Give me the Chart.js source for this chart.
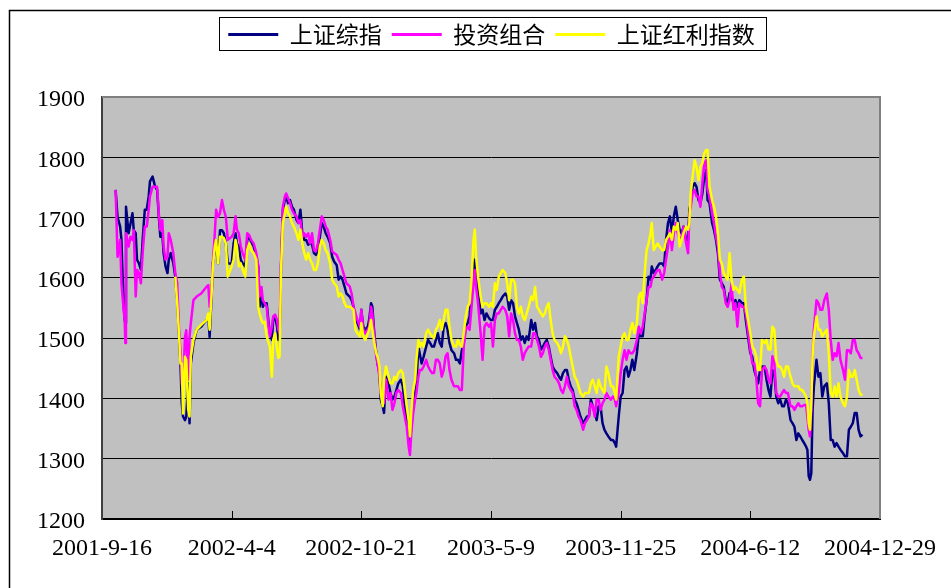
<!DOCTYPE html>
<html><head><meta charset="utf-8">
<style>html,body{margin:0;padding:0;background:#fff;}canvas{display:block;}</style>
<script src="https://cdn.jsdelivr.net/npm/chart.js@4.4.1/dist/chart.umd.min.js"></script>
</head><body>
<canvas id="c" width="951" height="588"></canvas>
<script>
const seriesNames = ['上证综指', '投资组合', '上证红利指数'];
const tickLabels = ['2001-9-16', '2002-4-4', '2002-10-21', '2003-5-9', '2003-11-25', '2004-6-12', '2004-12-29'];

// days counted from 2001-9-16
const days = [
21,24,28,30,33,35,36,37,41,44,47,49,52,54,57,60,63,66,69,72,74,78,82,85,88,90,93,95,98,101,103,106,110,
113,116,119,121,123,125,128,130,133,135,137,141,146,153,161,164,166,169,171,174,176,179,182,185,188,191,194,
200,203,206,208,211,214,217,221,224,227,230,234,238,241,243,246,248,251,254,257,259,262,264,267,270,272,274,276,279,282,284,287,290,293,296,300,303,306,309,312,315,318,321,324,327,330,333,336,339,342,345,348,352,355,358,362,365,368,371,374,377,382,385,388,391,394,398,
400,403,406,410,412,415,417,420,423,425,428,430,433,435,438,442,445,448,451,454,457,461,464,467,470,473,475,477,480,483,485,488,490,493,496,500,503,506,509,512,515,518,521,524,527,530,533,536,539,543,546,549,552,555,558,561,564,567,570,573,575,577,580,584,587,590,593,
597,600,603,606,609,612,615,618,622,625,628,631,634,637,640,643,646,649,652,655,658,662,665,668,671,674,677,680,683,686,689,692,695,698,702,705,708,711,714,717,720,723,726,729,732,735,738,742,745,748,751,754,757,760,763,766,769,772,775,778,781,785,788,791,793,
797,800,803,806,809,812,815,818,821,825,828,831,834,837,840,843,846,848,851,854,857,860,864,867,870,873,876,879,882,885,888,891,894,897,901,904,906,908,911,914,917,920,923,926,929,932,934,937,941,944,947,950,953,956,959,962,965,968,971,974,977,980,983,987,990,993,
1000,1003,1006,1009,1012,1015,1018,1022,1025,1028,1031,1034,1037,1040,1043,1046,1049,1052,1055,1058,1062,1065,1068,1071,1074,1077,1080,1083,1086,1088,1090,1092,1094,1096,1098,1102,1105,1108,1111,1114,1118,1121,1124,1127,1130,1133,1136,1139,1143,1146,1149,1152,1155,1158,1161,1164,1167,1170,1173
];

const shIndex = [
1746,1701,1685,1663,1563,1530,1525,1718,1674,1690,1707,1679,1674,1630,1624,1613,1668,1713,1713,1735,1760,1768,1751,1746,1696,1668,1674,1641,1619,1608,1630,1641,1624,
1602,1563,1502,1458,1392,1370,1364,1370,1425,1359,1458,1491,1514,1519,1530,1536,1502,1569,1624,1646,1663,1624,1679,1679,1674,1657,1624,
1624,1657,1674,1657,1652,1630,1624,1619,1663,1668,1660,1652,1635,1619,1552,1574,1552,1558,1558,1525,1508,1497,1530,1536,1519,1497,1503,1613,1713,1729,1735,1724,1729,1718,1713,1696,1691,1713,1674,1663,1663,1655,1657,1655,1641,1638,1646,1668,1691,1685,1674,1668,1657,1635,1627,1621,1597,1602,1597,1586,1574,1569,1563,1552,1530,1525,1514,
1547,1519,1514,1519,1530,1558,1552,1508,1475,1458,1442,1398,1387,1376,1436,1425,1409,1398,1403,1414,1425,1431,1420,1387,1364,1331,1326,1353,1387,1409,1425,1486,1475,1458,1469,1486,1497,1492,1486,1486,1497,1508,1492,1486,1519,1525,1514,1492,1480,1475,1464,1464,1458,1480,1492,1519,1525,1536,1585,1619,1630,1602,1580,1541,1547,1530,1541,
1533,1530,1530,1547,1552,1558,1563,1569,1574,1569,1547,1563,1558,1536,1525,1514,1497,1503,1492,1503,1497,1530,1514,1525,1503,1497,1481,1486,1492,1497,1486,1469,1453,1447,1442,1436,1431,1442,1447,1447,1431,1420,1414,1398,1392,1381,1370,1359,1364,1370,1370,1398,1387,1376,1364,1387,1387,1359,1348,1342,1337,1331,1331,1326,1320,
1370,1403,1409,1447,1453,1436,1447,1464,1447,1475,1508,1503,1503,1536,1563,1602,1597,1619,1608,1613,1619,1624,1624,1619,1663,1691,1702,1674,1702,1718,1696,1679,1674,1685,1663,1663,1713,1724,1751,1757,1751,1729,1724,1740,1768,1779,1729,1724,1691,1679,1663,1641,1597,1591,1585,1563,1558,1575,1569,1558,1563,1552,1563,1558,1558,1530,
1475,1469,1447,1436,1425,1447,1453,1453,1431,1414,1403,1447,1442,1403,1392,1398,1387,1387,1398,1392,1364,1359,1353,1331,1342,1337,1331,1326,1320,1315,1271,1265,1276,1381,1420,1464,1436,1442,1403,1420,1425,1392,1331,1331,1320,1326,1320,1315,1309,1304,1304,1348,1353,1359,1376,1376,1348,1337,1340
];

const portfolio = [
1746,1635,1663,1591,1552,1530,1492,1674,1652,1668,1663,1679,1569,1613,1608,1591,1646,1685,1685,1713,1735,1751,1751,1751,1701,1679,1696,1652,1630,1635,1674,1663,1641,
1608,1591,1508,1480,1425,1414,1502,1513,1431,1502,1525,1563,1569,1574,1585,1588,1552,1569,1624,1674,1713,1701,1707,1729,1713,1701,1663,
1668,1674,1702,1680,1674,1652,1641,1630,1674,1671,1663,1657,1641,1619,1569,1585,1563,1558,1552,1519,1503,1519,1536,1539,1530,1514,1508,1619,1718,1735,1740,1732,1724,1713,1707,1702,1691,1696,1668,1674,1668,1674,1657,1674,1646,1644,1657,1680,1702,1696,1685,1680,1663,1644,1641,1638,1630,1624,1613,1602,1591,1586,1574,1552,1541,1530,1519,
1547,1514,1508,1514,1519,1552,1541,1503,1470,1458,1436,1409,1392,1392,1431,1398,1409,1381,1392,1409,1414,1409,1387,1370,1354,1320,1306,1342,1376,1398,1409,1436,1447,1447,1453,1464,1453,1447,1442,1442,1464,1464,1458,1436,1447,1470,1475,1447,1431,1420,1420,1420,1414,1414,1486,1514,1519,1514,1552,1591,1613,1585,1558,1508,1464,1519,1525,
1519,1525,1486,1530,1541,1541,1547,1552,1547,1536,1503,1541,1530,1508,1497,1497,1486,1464,1475,1481,1486,1486,1508,1508,1497,1486,1469,1475,1486,1492,1481,1464,1447,1436,1431,1425,1414,1409,1420,1436,1420,1414,1409,1387,1381,1370,1364,1348,1359,1364,1370,1392,1387,1370,1398,1398,1381,1392,1398,1409,1403,1398,1403,1398,1387,
1409,1442,1464,1480,1464,1480,1475,1475,1480,1497,1519,1508,1519,1541,1563,1585,1585,1597,1602,1608,1613,1613,1597,1608,1630,1652,1679,1646,1674,1691,1674,1663,1668,1685,1657,1641,1707,1718,1740,1746,1735,1735,1718,1757,1790,1795,1746,1735,1707,1691,1668,1652,1608,1585,1580,1558,1552,1563,1591,1547,1558,1519,1558,1552,1552,1541,
1480,1458,1458,1436,1392,1387,1447,1453,1447,1431,1425,1470,1458,1409,1403,1403,1409,1414,1409,1409,1387,1387,1381,1387,1392,1387,1387,1389,1389,1370,1348,1337,1381,1470,1514,1563,1558,1547,1547,1563,1574,1547,1497,1464,1475,1470,1492,1464,1447,1431,1480,1480,1475,1497,1497,1480,1475,1467,1467
];

const dividend = [
null,null,null,null,null,null,null,null,null,null,null,null,null,null,null,null,null,null,null,null,null,null,null,null,null,null,null,null,null,null,null,null,null,
1602,1558,1502,1458,1458,1375,1469,1464,1381,1370,1469,1497,1514,1522,1530,1541,1514,1574,1619,1652,1663,1624,1668,1668,1666,1657,1602,
1619,1630,1663,1652,1619,1624,1613,1602,1646,1657,1646,1641,1630,1552,1541,1530,1525,1527,1503,1492,1486,1436,1497,1508,1481,1467,1470,1608,1691,1707,1718,1707,1702,1691,1685,1674,1663,1680,1657,1641,1630,1641,1630,1624,1613,1613,1624,1652,1663,1657,1646,1641,1624,1597,1591,1586,1569,1574,1569,1558,1552,1552,1550,1547,1514,1508,1503,
1525,1503,1497,1508,1514,1530,1514,1492,1475,1469,1453,1409,1387,1431,1453,1436,1425,1425,1436,1431,1442,1447,1442,1414,1387,1364,1337,1376,1414,1431,1464,1497,1486,1492,1486,1508,1514,1508,1503,1500,1514,1519,1530,1514,1530,1547,1547,1519,1497,1486,1486,1497,1489,1486,1508,1536,1552,1558,1597,1663,1680,1635,1602,1569,1552,1558,1558,
1552,1558,1552,1591,1580,1602,1608,1613,1608,1591,1563,1597,1597,1591,1552,1541,1552,1536,1530,1541,1552,1569,1563,1585,1552,1547,1541,1536,1541,1552,1558,1530,1508,1497,1492,1486,1475,1486,1503,1497,1486,1469,1453,1436,1431,1420,1409,1403,1409,1409,1409,1425,1431,1420,1409,1431,1420,1414,1409,1453,1442,1420,1420,1409,1398,
1469,1486,1503,1508,1497,1497,1514,1525,1508,1525,1569,1575,1558,1608,1646,1657,1674,1691,1646,1652,1657,1652,1646,1646,1663,1668,1674,1663,1685,1680,1691,1652,1663,1674,1685,1680,1691,1740,1768,1795,1784,1762,1784,1790,1807,1812,1812,1751,1729,1718,1702,1674,1630,1624,1608,1602,1597,1641,1597,1580,1585,1580,1575,1597,1602,1552,
1508,1486,1481,1470,1447,1447,1497,1492,1497,1481,1481,1519,1514,1464,1453,1453,1447,1436,1453,1453,1436,1425,1420,1420,1420,1414,1414,1409,1403,1392,1359,1348,1392,1470,1503,1536,1514,1514,1503,1508,1514,1475,1409,1403,1420,1403,1425,1403,1392,1387,1403,1447,1436,1436,1447,1431,1414,1406,1406
];

if (shIndex.length !== days.length || portfolio.length !== days.length || dividend.length !== days.length) {
  throw new Error('length mismatch ' + days.length + ' ' + shIndex.length + ' ' + portfolio.length + ' ' + dividend.length);
}

const colors = ['#000080', '#FF00FF', '#FFFF00'];
const TOP_PAD = 13;
const SERIF = "'Liberation Serif', 'Times New Roman', serif";

function pts(vals) { return days.map((d, i) => ({ x: d, y: vals[i] })); }

const framePlugin = {
  id: 'frame',
  beforeDraw(chart) {
    const { ctx, chartArea: a } = chart;
    ctx.save();
    ctx.fillStyle = '#fff';
    ctx.fillRect(0, 0, chart.width, chart.height);
    ctx.fillStyle = '#C0C0C0';
    ctx.fillRect(a.left, a.top, a.right - a.left, a.bottom - a.top);
    ctx.strokeStyle = '#000';
    ctx.lineWidth = 1.5;
    ctx.beginPath();
    ctx.moveTo(9.5, chart.height);
    ctx.lineTo(9.5, 10.5);
    ctx.lineTo(chart.width, 10.5);
    ctx.stroke();
    ctx.restore();
  },
  beforeDatasetsDraw(chart) {
    const { ctx, chartArea: a } = chart;
    const x = chart.scales.x;
    ctx.save();
    ctx.strokeStyle = '#000';
    ctx.lineWidth = 1;
    x.ticks.forEach(t => {
      if (t.value > x.min && t.value < x.max) {
        const px = Math.round(x.getPixelForValue(t.value)) + 0.5;
        ctx.beginPath();
        ctx.moveTo(px, a.bottom);
        ctx.lineTo(px, a.bottom - 8);
        ctx.stroke();
      }
    });
    ctx.restore();
  },
  afterDraw(chart) {
    const { ctx, chartArea: a } = chart;
    ctx.save();
    ctx.strokeStyle = '#808080';
    ctx.lineWidth = 2;
    ctx.beginPath();
    ctx.moveTo(a.left, a.top);
    ctx.lineTo(a.right, a.top);
    ctx.lineTo(a.right, a.bottom);
    ctx.stroke();
    const hb = chart.legend && chart.legend.legendHitBoxes;
    if (hb && hb.length) {
      let l = Infinity, r = -Infinity, t = Infinity, b = -Infinity;
      hb.forEach(h => {
        l = Math.min(l, h.left); r = Math.max(r, h.left + h.width);
        t = Math.min(t, h.top); b = Math.max(b, h.top + h.height);
      });
      ctx.strokeStyle = '#000';
      ctx.lineWidth = 1;
      ctx.strokeRect(Math.round(l - 9) + 0.5, Math.round(t - 6) + 0.5, Math.round(r - l + 20), Math.round(b - t + 10));
    }
    ctx.restore();
  }
};

new Chart(document.getElementById('c'), {
  type: 'line',
  data: {
    datasets: [
      { label: seriesNames[0], data: pts(shIndex), borderColor: colors[0], backgroundColor: colors[0], order: 2 },
      { label: seriesNames[1], data: pts(portfolio), borderColor: colors[1], backgroundColor: colors[1], order: 1 },
      { label: seriesNames[2], data: pts(dividend), borderColor: colors[2], backgroundColor: colors[2], order: 0 }
    ]
  },
  options: {
    responsive: false,
    animation: false,
    devicePixelRatio: 1,
    events: [],
    layout: { padding: { left: 32, right: 0, top: TOP_PAD, bottom: 0 } },
    elements: {
      point: { radius: 0, hoverRadius: 0 },
      line: { tension: 0, borderWidth: 2.5, borderJoinStyle: 'round', fill: false }
    },
    plugins: {
      tooltip: { enabled: false },
      legend: {
        position: 'top',
        align: 'center',
        labels: {
          boxWidth: 50,
          boxHeight: 3,
          padding: 10,
          color: '#000',
          font: { family: "'Noto Sans CJK SC', sans-serif", size: 23 },
          generateLabels(chart) {
            return chart.data.datasets.map((ds, i) => ({
              text: ds.label, fillStyle: ds.borderColor, strokeStyle: ds.borderColor,
              lineWidth: 0, hidden: false, datasetIndex: i, fontColor: '#000'
            }));
          }
        }
      }
    },
    scales: {
      x: {
        type: 'linear', position: 'bottom', min: 0, max: 1200,
        afterFit(s) { s.height = 69; },
        grid: { display: false, drawTicks: false },
        border: { display: true, color: '#000', width: 2 },
        ticks: {
          stepSize: 200, autoSkip: false, maxRotation: 0, padding: 15, color: '#000',
          font: { family: SERIF, size: 24 },
          callback: (v) => tickLabels[Math.round(v / 200)]
        }
      },
      xTop: {
        type: 'linear', position: 'top', min: 0, max: 1, display: true,
        grid: { display: false, drawTicks: false }, border: { display: false }, ticks: { display: false },
        afterFit(s) { s.height = Math.max(0, 97 - TOP_PAD - s.chart.legend.height); }
      },
      y: {
        type: 'linear', position: 'left', min: 1200, max: 1900,
        afterFit(s) { s.width = 70; },
        grid: {
          drawTicks: false, lineWidth: 1,
          color: (c) => (c.tick && c.tick.value === 1900) ? 'rgba(0,0,0,0)' : '#000'
        },
        border: { display: true, color: '#404040', width: 2 },
        ticks: {
          stepSize: 100, padding: 17, labelOffset: 3, color: '#000', font: { family: SERIF, size: 24 },
          callback: (v) => String(v)
        }
      },
      yRight: {
        type: 'linear', position: 'right', min: 0, max: 1, display: true,
        grid: { display: false, drawTicks: false }, border: { display: false }, ticks: { display: false },
        afterFit(s) { s.width = 69; }
      }
    }
  },
  plugins: [framePlugin]
});
</script>
</body></html>
